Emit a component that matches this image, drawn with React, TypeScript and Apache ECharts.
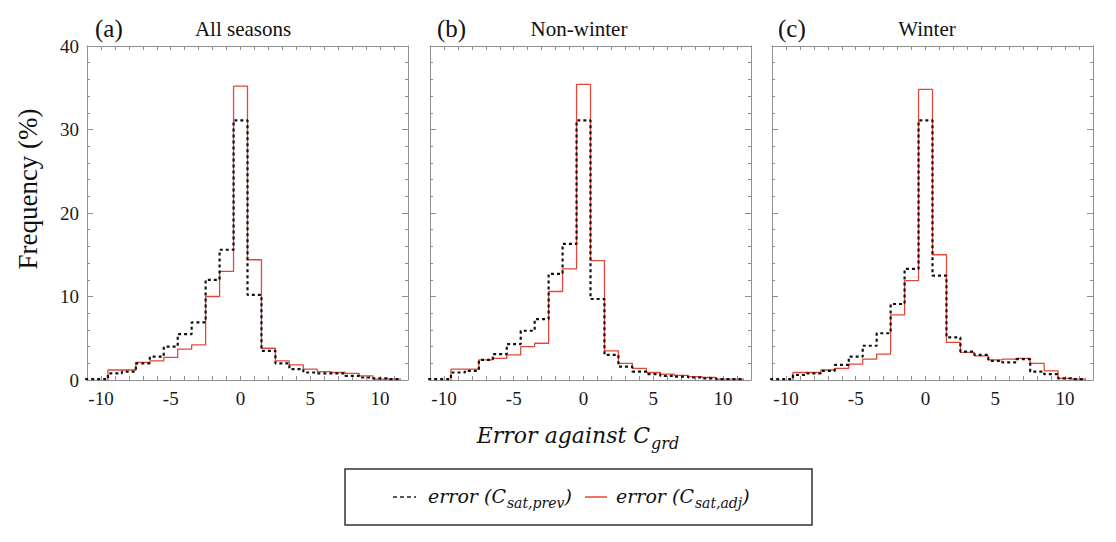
import React, { useEffect, useRef } from "react";
import * as echarts from "echarts";

// ---------- data ----------
const binCenters = [-11, -10, -9, -8, -7, -6, -5, -4, -3, -2, -1, 0, 1, 2, 3, 4, 5, 6, 7, 8, 9, 10, 11];
const binWidth = 1;

const panelLetters = ["(a)", "(b)", "(c)"];
const panelTitles = ["All seasons", "Non-winter", "Winter"];

const allPrev = [0.1, 0.1, 0.8, 1.0, 2.0, 2.8, 4.0, 5.5, 6.9, 12.0, 15.6, 31.1, 10.2, 3.5, 2.0, 1.3, 0.9, 0.8, 0.8, 0.5, 0.3, 0.2, 0.1];
const allAdj = [null, null, 1.2, 1.2, 2.1, 2.3, 2.7, 3.7, 4.2, 10.0, 13.0, 35.2, 14.4, 3.8, 2.3, 1.8, 1.3, 1.0, 0.9, 0.8, 0.5, 0.1, 0.1];

const nonWinterPrev = [0.1, 0.1, 0.9, 1.1, 2.4, 3.1, 4.3, 5.9, 7.3, 12.7, 16.3, 31.1, 9.7, 3.0, 1.6, 1.0, 0.7, 0.5, 0.4, 0.3, 0.2, 0.1, 0.1];
const nonWinterAdj = [null, null, 1.3, 1.3, 2.4, 2.6, 3.0, 4.0, 4.4, 10.6, 13.3, 35.4, 14.3, 3.5, 2.0, 1.4, 0.9, 0.7, 0.55, 0.4, 0.3, 0.1, 0.1];

const winterPrev = [0.1, 0.1, 0.6, 0.8, 1.1, 1.8, 2.8, 4.1, 5.6, 9.1, 13.3, 31.1, 12.5, 5.1, 3.4, 3.0, 2.3, 2.1, 2.5, 1.0, 0.7, 0.2, 0.1];
const winterAdj = [null, null, 0.9, 0.9, 1.2, 1.4, 1.9, 2.5, 3.1, 7.8, 11.9, 34.8, 15.0, 4.5, 3.3, 2.9, 2.4, 2.5, 2.6, 2.0, 1.1, 0.2, 0.1];

const prevSeries = [allPrev, nonWinterPrev, winterPrev];
const adjSeries = [allAdj, nonWinterAdj, winterAdj];

const xMin = -11;
const xMax = 12;
const yMin = 0;
const yMax = 40;

// ---------- helpers ----------
function stepPoints(vals: (number | null)[]): [number, number][] {
  const pts: [number, number][] = [];
  let prevNull = true;
  vals.forEach((v, i) => {
    if (v == null) {
      prevNull = true;
      return;
    }
    const c = binCenters[i];
    const l = c - binWidth / 2;
    const r = c + binWidth / 2;
    if (prevNull) pts.push([l, 0]);
    pts.push([l, v], [r, v]);
    prevNull = false;
  });
  return pts;
}

const SERIF = "'Liberation Serif', 'Times New Roman', serif";
const MATH = "'DejaVu Serif', serif";
const RED = "#e2483a";
const AXIS_GREY = "#8f8f8f";

const gridLefts = [87, 430, 772];
const gridTop = 46;
const gridW = 321;
const gridH = 334;

function mathRich(main: number, sub: number, raise: number) {
  return {
    m: { fontFamily: MATH, fontStyle: "italic", fontSize: main, fill: "#111", verticalAlign: "bottom", padding: [0, 0, raise, 0] },
    s: { fontFamily: MATH, fontStyle: "italic", fontSize: sub, fill: "#111", verticalAlign: "bottom", padding: [0, 0, 0, 1] },
  };
}

export default function App() {
  const ref = useRef<HTMLDivElement>(null);

  useEffect(() => {
    if (!ref.current) return;
    const chart = echarts.init(ref.current, null, { renderer: "svg" });

    const grids: any[] = [];
    const xAxes: any[] = [];
    const yAxes: any[] = [];
    const series: any[] = [];

    gridLefts.forEach((left, i) => {
      grids.push({ left, top: gridTop, width: gridW, height: gridH, containLabel: false });
      const xBase = {
        type: "value",
        gridIndex: i,
        min: xMin,
        max: xMax,
        interval: 1,
        splitLine: { show: false },
        axisLine: { show: true, onZero: false, lineStyle: { color: AXIS_GREY, width: 1 } },
        axisTick: { show: true, inside: true, length: 4, lineStyle: { color: AXIS_GREY } },
      };
      xAxes.push({
        ...xBase,
        position: "bottom",
        axisLabel: {
          show: true,
          margin: 9,
          fontFamily: SERIF,
          fontSize: 19,
          color: "#1a1a1a",
          formatter: (v: number) => (v % 5 === 0 ? String(v) : ""),
        },
      });
      xAxes.push({ ...xBase, position: "top", axisLabel: { show: false } });

      const yBase = {
        type: "value",
        gridIndex: i,
        min: yMin,
        max: yMax,
        interval: 10,
        splitLine: { show: false },
        axisLine: { show: true, onZero: false, lineStyle: { color: AXIS_GREY, width: 1 } },
        axisTick: { show: true, inside: true, length: 6, lineStyle: { color: AXIS_GREY } },
        minorTick: { show: true, splitNumber: 5, length: 3, lineStyle: { color: AXIS_GREY } },
      };
      yAxes.push({
        ...yBase,
        position: "left",
        axisLabel: {
          show: i === 0,
          margin: 8,
          fontFamily: SERIF,
          fontSize: 19,
          color: "#1a1a1a",
        },
      });
      yAxes.push({ ...yBase, position: "right", axisLabel: { show: false } });

      series.push({
        type: "line",
        name: "error (C_sat,adj)",
        xAxisIndex: 2 * i,
        yAxisIndex: 2 * i,
        data: stepPoints(adjSeries[i]),
        showSymbol: false,
        symbol: "none",
        clip: true,
        lineStyle: { color: RED, width: 1.3 },
        z: 2,
      });
      series.push({
        type: "line",
        name: "error (C_sat,prev)",
        xAxisIndex: 2 * i,
        yAxisIndex: 2 * i,
        data: stepPoints(prevSeries[i]),
        showSymbol: false,
        symbol: "none",
        clip: true,
        lineStyle: { color: "#111", width: 2.2, type: [3, 3] },
        z: 3,
      });
    });

    const graphics: any[] = [];
    const letterX = [95, 437, 778];
    const titleCx = [243, 579, 927];
    gridLefts.forEach((_, i) => {
      graphics.push({
        type: "text",
        x: letterX[i],
        y: 28,
        style: {
          text: panelLetters[i],
          fontFamily: SERIF,
          fontSize: 25,
          fill: "#111",
          verticalAlign: "middle",
          align: "left",
        },
      });
      graphics.push({
        type: "text",
        x: titleCx[i],
        y: 29,
        style: {
          text: panelTitles[i],
          fontFamily: SERIF,
          fontSize: 21,
          fill: "#111",
          verticalAlign: "middle",
          align: "center",
        },
      });
    });

    // y axis title
    graphics.push({
      type: "text",
      x: 28,
      y: 189,
      rotation: Math.PI / 2,
      style: {
        text: "Frequency (%)",
        fontFamily: SERIF,
        fontSize: 27,
        fill: "#111",
        align: "center",
        verticalAlign: "middle",
      },
    });

    // x axis title
    graphics.push({
      type: "text",
      x: 578,
      y: 438,
      style: {
        text: "{m|Error against C}{s|grd}",
        align: "center",
        verticalAlign: "middle",
        rich: mathRich(22, 16, 5),
      },
    });

    // legend box
    const ly = 497;
    graphics.push({
      type: "rect",
      shape: { x: 345, y: 469, width: 467, height: 56 },
      style: { fill: "#fff", stroke: "#333", lineWidth: 1.5 },
    });
    graphics.push({
      type: "line",
      shape: { x1: 393, y1: ly, x2: 416, y2: ly },
      style: { stroke: "#222", lineWidth: 1.5, lineDash: [4, 3] },
    });
    graphics.push({
      type: "text",
      x: 428,
      y: ly + 1,
      style: {
        text: "{m|error (C}{s|sat,prev}{m|)}",
        align: "left",
        verticalAlign: "middle",
        rich: mathRich(19, 14, 4),
      },
    });
    graphics.push({
      type: "line",
      shape: { x1: 585, y1: ly, x2: 607, y2: ly },
      style: { stroke: RED, lineWidth: 1.5 },
    });
    graphics.push({
      type: "text",
      x: 616,
      y: ly + 1,
      style: {
        text: "{m|error (C}{s|sat,adj}{m|)}",
        align: "left",
        verticalAlign: "middle",
        rich: mathRich(19, 14, 4),
      },
    });

    chart.setOption({
      animation: false,
      backgroundColor: "#ffffff",
      grid: grids,
      xAxis: xAxes,
      yAxis: yAxes,
      series,
      graphic: graphics,
    });

    return () => chart.dispose();
  }, []);

  return (
    <div
      ref={ref}
      style={{ position: "absolute", left: 0, top: 0, width: 1116, height: 542 }}
    />
  );
}
